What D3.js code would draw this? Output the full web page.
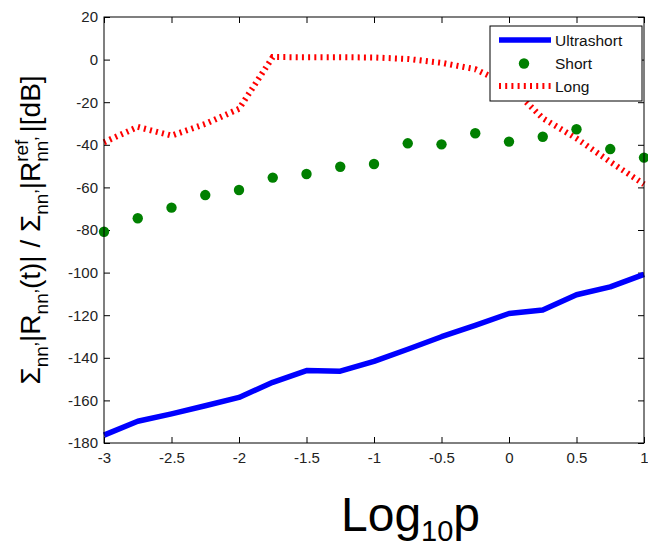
<!DOCTYPE html>
<html>
<head>
<meta charset="utf-8">
<script src="https://cdn.jsdelivr.net/npm/d3@7"></script>
<style>
  body { margin: 0; background: #fff; }
  svg { display: block; font-family: "Liberation Sans", Arial, sans-serif; }
</style>
</head>
<body>
<div id="chart"></div>
<script>
// log10 p values, one per 0.25 step
const logP = [-3, -2.75, -2.5, -2.25, -2, -1.75, -1.5, -1.25, -1, -0.75, -0.5, -0.25, 0, 0.25, 0.5, 0.75, 1];
// dB values
const ultrashort = [-176.3, -169.8, -166.3, -162.5, -158.6, -151.5, -146, -146.3, -141.7, -136, -130.1, -124.8, -119.2, -117.6, -110.4, -106.7, -100.8];
const short = [-80.8, -74.5, -69.5, -63.6, -61.2, -55.4, -53.7, -50.3, -49, -39.3, -39.8, -34.6, -38.5, -36.2, -32.7, -42, -46];
const long = [-38.8, -31.6, -35.7, -30.2, -23.1, 1.2, 1.1, 1.1, 1.0, 0.3, -1.5, -4.5, -12, -27.5, -37, -48, -58.5];

const xTicks = [-3, -2.5, -2, -1.5, -1, -0.5, 0, 0.5, 1];
const yTicks = [-180, -160, -140, -120, -100, -80, -60, -40, -20, 0, 20];
const seriesNames = ["Ultrashort", "Short", "Long"];

const width = 648, height = 542;
const margin = {top: 17, right: 4, bottom: 99, left: 104};
const iw = width - margin.left - margin.right;
const ih = height - margin.top - margin.bottom;

const svg = d3.select("#chart").append("svg")
    .attr("width", width)
    .attr("height", height);

const x = d3.scaleLinear().domain([-3, 1]).range([0, iw]);
const y = d3.scaleLinear().domain([-180, 20]).range([ih, 0]);

const g = svg.append("g")
    .attr("transform", `translate(${margin.left},${margin.top})`);

g.append("rect")
    .attr("width", iw).attr("height", ih)
    .attr("fill", "#fff");

// axes, ticks pointing inward on all four sides
const fmt = d => String(d);
g.append("g").attr("transform", `translate(0,${ih})`)
    .call(d3.axisBottom(x).tickValues(xTicks).tickFormat(fmt).tickSizeInner(-6).tickSizeOuter(0).tickPadding(9));
g.append("g")
    .call(d3.axisLeft(y).tickValues(yTicks).tickFormat(fmt).tickSizeInner(-6).tickSizeOuter(0).tickPadding(6));
g.append("g")
    .call(d3.axisTop(x).tickValues(xTicks).tickFormat("").tickSizeInner(-6).tickSizeOuter(0));
g.append("g").attr("transform", `translate(${iw},0)`)
    .call(d3.axisRight(y).tickValues(yTicks).tickFormat("").tickSizeInner(-6).tickSizeOuter(0));

g.selectAll(".domain").remove();
g.selectAll(".tick line").attr("stroke", "#000");
g.selectAll(".tick text")
    .attr("fill", "#222")
    .style("font-size", "15px");

const lineGen = d3.line()
    .x((d, i) => x(logP[i]))
    .y(d => y(d));

const plot = g.append("g");

plot.append("path")
    .datum(ultrashort)
    .attr("d", lineGen)
    .attr("fill", "none")
    .attr("stroke", "#0000ff")
    .attr("stroke-width", 5.5)
    .attr("stroke-linejoin", "round");

plot.append("path")
    .datum(long)
    .attr("d", lineGen)
    .attr("fill", "none")
    .attr("stroke", "#ff0000")
    .attr("stroke-width", 6)
    .attr("stroke-dasharray", "2,4.2");

plot.selectAll("circle.short")
    .data(short)
    .join("circle")
    .attr("class", "short")
    .attr("cx", (d, i) => x(logP[i]))
    .attr("cy", d => y(d))
    .attr("r", 5.2)
    .attr("fill", "#008000");

// frame
g.append("rect")
    .attr("width", iw).attr("height", ih)
    .attr("fill", "none")
    .attr("stroke", "#000")
    .attr("stroke-width", 1);

// legend
const leg = svg.append("g").attr("transform", "translate(490,26)");
leg.append("rect")
    .attr("width", 152).attr("height", 75)
    .attr("fill", "#fff")
    .attr("stroke", "#000");
const rowY = [14, 37.5, 60];
seriesNames.forEach((name, i) => {
    const row = leg.append("g").attr("transform", `translate(0,${rowY[i]})`);
    if (i === 0) {
        row.append("line").attr("x1", 9).attr("x2", 61)
            .attr("stroke", "#0000ff").attr("stroke-width", 5.5);
    } else if (i === 1) {
        row.append("circle").attr("cx", 34).attr("r", 5.2).attr("fill", "#008000");
    } else {
        row.append("line").attr("x1", 9).attr("x2", 61)
            .attr("stroke", "#ff0000").attr("stroke-width", 6)
            .attr("stroke-dasharray", "2,4.2");
    }
    row.append("text")
        .attr("x", 65).attr("dy", "0.36em")
        .style("font-size", "15.5px")
        .attr("fill", "#111")
        .text(name);
});

// y axis label with sub/superscripts
const ylab = svg.append("g");
const yt = ylab.append("text").attr("x", 0).attr("y", 0)
    .style("font-size", "28px").attr("fill", "#000");
const subSize = "19px";
yt.append("tspan").text("Σ");
yt.append("tspan").attr("dy", 8).style("font-size", subSize).text("nn’");
yt.append("tspan").attr("dy", -8).text("|R");
yt.append("tspan").attr("dy", 8).style("font-size", subSize).text("nn’");
yt.append("tspan").attr("dy", -8).text("(t)| / Σ");
yt.append("tspan").attr("dy", 8).style("font-size", subSize).text("nn’");
yt.append("tspan").attr("dy", -8).text("|R");
const sup = yt.append("tspan").attr("dy", -12).style("font-size", subSize).text("ref");
const supLen = sup.node().getComputedTextLength();
yt.append("tspan").attr("dy", 20).attr("dx", -supLen).style("font-size", subSize).text("nn’");
yt.append("tspan").attr("dy", -8).attr("dx", 4).text("|[dB]");
const yb = yt.node().getBBox();
ylab.attr("transform", `translate(40,${(margin.top + margin.top + ih) / 2}) rotate(-90) translate(${-yb.width / 2},0)`);

// x axis label
const xt = svg.append("text")
    .attr("x", 341).attr("y", 531)
    .style("font-size", "48px").attr("fill", "#000");
xt.append("tspan").text("Log");
xt.append("tspan").attr("dy", 10).style("font-size", "29px").text("10");
xt.append("tspan").attr("dy", -10).text("p");
</script>
</body>
</html>
